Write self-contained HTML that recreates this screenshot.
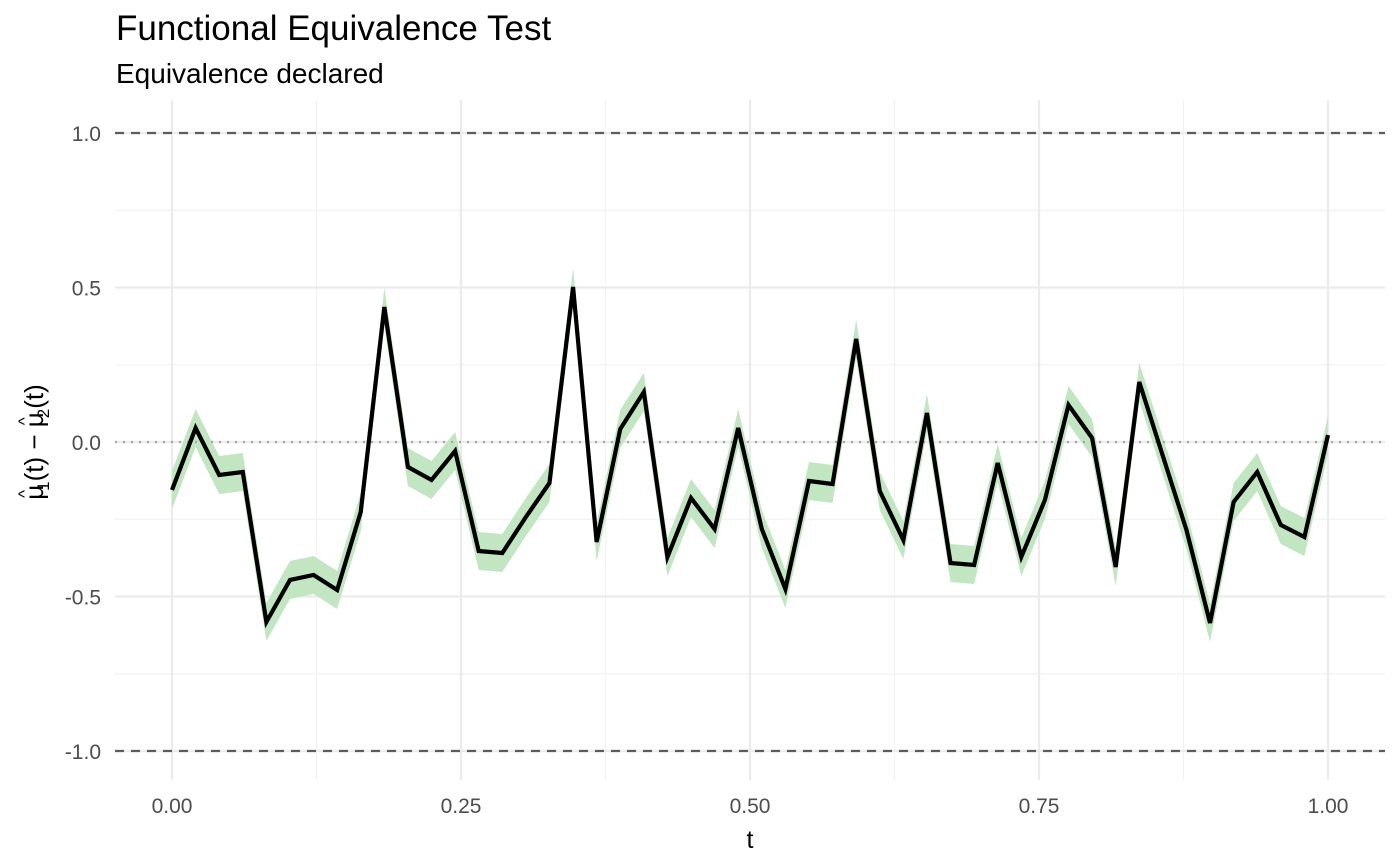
<!DOCTYPE html>
<html><head><style>body{margin:0;background:#fff}svg{display:block}</style></head><body>
<svg id="s" width="1400" height="866" xmlns="http://www.w3.org/2000/svg" font-family="Liberation Sans, sans-serif">
<text x="116" y="40" font-size="35" fill="#000">Functional Equivalence Test</text>
<text x="116" y="83" font-size="28" fill="#000">Equivalence declared</text>
<g id="grid"></g>
<g id="data"></g>
<text x="750" y="848" font-size="25" text-anchor="middle">t</text>
<text transform="translate(43,442) rotate(-90)" font-size="26" text-anchor="middle">μ<tspan dx="-13" dy="-13" font-size="17">^</tspan><tspan dx="-1" dy="19" font-size="17">1</tspan><tspan dy="-6">(t) − μ</tspan><tspan dx="-13" dy="-13" font-size="17">^</tspan><tspan dx="-1" dy="19" font-size="17">2</tspan><tspan dy="-6">(t)</tspan></text>
</svg>
<script>
const ns="http://www.w3.org/2000/svg";
function el(p,t,a,txt){const e=document.createElementNS(ns,t);for(const k in a)e.setAttribute(k,a[k]);if(txt!==undefined)e.textContent=txt;document.getElementById(p).appendChild(e);return e;}
const X=t=>172+t*1156, Y=v=>442-v*309;
for(const v of [-0.75,-0.25,0.25,0.75]) el('grid','line',{x1:115,x2:1385,y1:Y(v),y2:Y(v),stroke:'#f2f2f2','stroke-width':1.2});
for(const t of [0.125,0.375,0.625,0.875]) el('grid','line',{x1:X(t),x2:X(t),y1:100,y2:780,stroke:'#f2f2f2','stroke-width':1.2});
for(const v of [-1,-0.5,0,0.5,1]) {el('grid','line',{x1:115,x2:1385,y1:Y(v),y2:Y(v),stroke:'#ebebeb','stroke-width':2.2});
 el('grid','text',{x:101,y:Y(v)+8,'font-size':21,fill:'#4d4d4d','text-anchor':'end'},v.toFixed(1));}
for(const t of [0,0.25,0.5,0.75,1]) {el('grid','line',{x1:X(t),x2:X(t),y1:100,y2:780,stroke:'#ebebeb','stroke-width':2.2});
 el('grid','text',{x:X(t),y:813,'font-size':21,fill:'#4d4d4d','text-anchor':'middle'},t.toFixed(2));}
const py=[490,428,475,472,622,580,575,590,512,307,467,480,451,551,553,517,483,287,542,429,392,557,498,529,428,529,589,481,484,339,491,540,413,563,565,463,557,500,405,438,567,382,456,530,623,502,472,525,537,435];
const px=py.map((_,i)=>172+i*1156/49);
let up=px.map((x,i)=>x+','+(py[i]-19)).join(' '), dn=px.map((x,i)=>x+','+(py[i]+19)).reverse().join(' ');
el('data','polygon',{points:up+' '+dn,fill:'#c2e5c2'});
el('data','line',{x1:115,x2:1385,y1:442,y2:442,stroke:'#a6a6a6','stroke-width':2.2,'stroke-dasharray':'2,6'});
for(const v of [1,-1]) el('data','line',{x1:115,x2:1385,y1:Y(v),y2:Y(v),stroke:'#5c5c5c','stroke-width':2.2,'stroke-dasharray':'9,7'});
el('data','polyline',{points:px.map((x,i)=>x+','+py[i]).join(' '),fill:'none',stroke:'#000','stroke-width':4.2,'stroke-linejoin':'miter'});
</script>
</body></html>
